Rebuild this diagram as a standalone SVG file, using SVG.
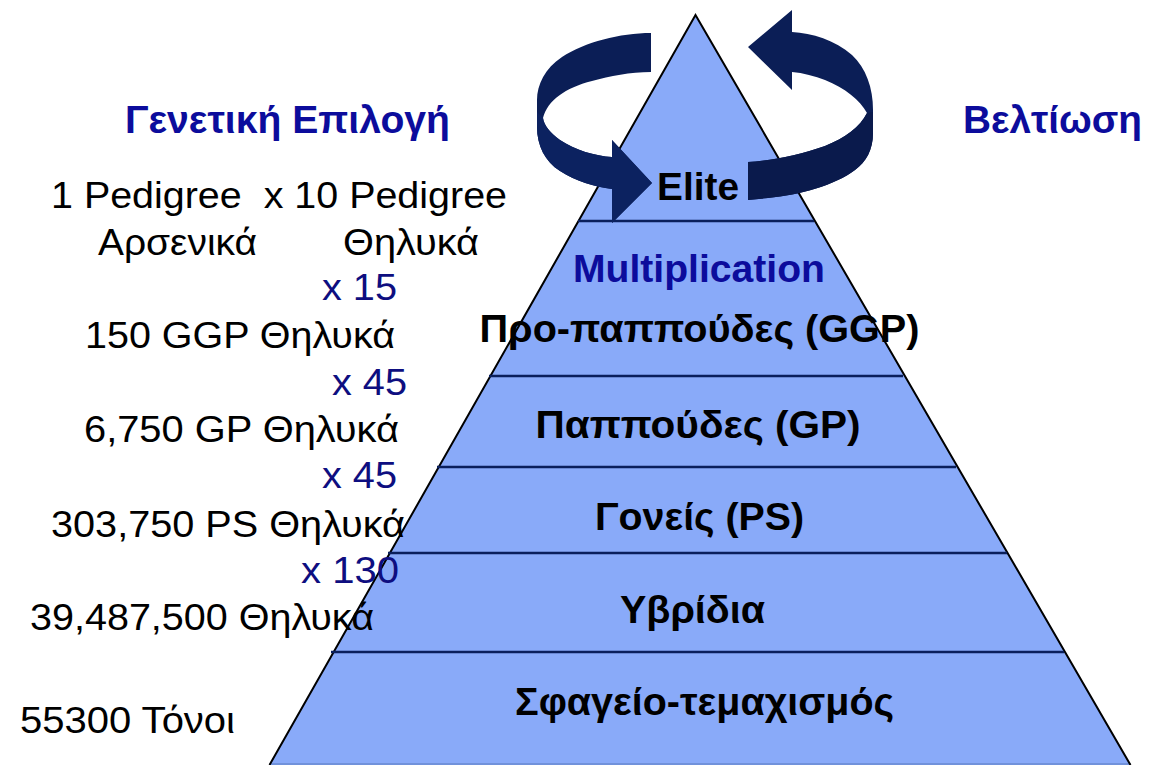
<svg xmlns="http://www.w3.org/2000/svg" width="1154" height="765" viewBox="0 0 1154 765">
  <style>
    .lbl { font-family: "Liberation Sans", Arial, sans-serif; font-size: 36px; fill: #000; }
    .mul { font-family: "Liberation Sans", Arial, sans-serif; font-size: 36px; fill: #0e0e80; }
    .head { font-family: "Liberation Sans", Arial, sans-serif; font-size: 38px; font-weight: bold; fill: #0c0c9c; }
    .tier { font-family: "Liberation Sans", Arial, sans-serif; font-size: 38px; font-weight: bold; fill: #000; text-anchor: middle; }
    .divider { stroke: #0a1f5c; stroke-width: 2.5; fill: none; }
    .band-back { fill: #0b1e56; }
    .band-front { fill: #0c2260; }
  </style>

  <rect width="1154" height="765" fill="#ffffff"/>

  <!-- Pyramid body -->
  <g id="pyramid">
    <polygon points="695.5,15 1130.5,765 269.5,765" fill="#89aaf9"/>
    <line x1="269.5" y1="764" x2="1130.5" y2="764" stroke="#6a8ad0" stroke-width="1.5"/>
    <polyline points="269.5,765 695.5,15 1130.5,765" fill="none" stroke="#000" stroke-width="2"/>
  </g>

  <!-- Tier dividers -->
  <g id="dividers">
    <line class="divider" x1="578" y1="221" x2="814" y2="221"/>
    <line class="divider" x1="489" y1="376" x2="903" y2="376"/>
    <line class="divider" x1="437" y1="467" x2="956" y2="467"/>
    <line class="divider" x1="388" y1="553" x2="1007" y2="553"/>
    <line class="divider" x1="331" y1="652" x2="1064" y2="652"/>
  </g>

  <!-- Circular improvement arrows round the apex -->
  <g id="cycle-left">
    <path class="band-back" d="M651,33 C620,33 585,42 562,57 C545,68 537,85 537,100 L537,127 C537,145 545,162 560,171 C575,181 595,187 612,189 L612,223 L652,183 L612,140 L612,157 C595,156 575,150 560,140 C550,133 544,125 543,118 C548,100 565,88 592,81 C610,76 630,72 651,72 Z"/>
    <path class="band-front" d="M537,112 L537,127 C537,145 545,162 560,171 C575,181 595,187 612,189 L612,223 L652,183 L612,140 L612,157 C595,156 575,150 560,140 C550,133 544,125 543,118 Z"/>
  </g>
  <g id="cycle-right">
    <path class="band-back" d="M748,47 L792,10 L792,32 C812,33 835,40 852,55 C866,68 873,88 873,110 L873,133 C873,150 866,162 855,170 C835,185 800,195 768,198 L748,200 L748,162 C770,161 800,155 825,146 C845,138 860,127 867,113 C860,100 845,88 825,80 C815,76 803,73 792,72 L792,90 Z"/>
    <path fill="#0a1a4c" d="M873,112 L873,133 C873,150 866,162 855,170 C835,185 800,195 768,198 L748,200 L748,162 C770,161 800,155 825,146 C845,138 860,127 867,113 Z"/>
  </g>

  <!-- Headings -->
  <g id="headings">
    <text class="head" x="125" y="133" textLength="325" lengthAdjust="spacingAndGlyphs">Γενετική Επιλογή</text>
    <text class="head" x="963" y="133" textLength="179" lengthAdjust="spacingAndGlyphs">Βελτίωση</text>
  </g>

  <!-- Tier labels -->
  <g id="tier-labels">
    <text class="tier" x="698" y="200" textLength="82" lengthAdjust="spacingAndGlyphs">Elite</text>
    <text class="tier" x="699" y="282" textLength="252" lengthAdjust="spacingAndGlyphs" style="fill:#0c0c9c">Multiplication</text>
    <text class="tier" x="699.5" y="342" textLength="440" lengthAdjust="spacingAndGlyphs">Προ-παππούδες (GGP)</text>
    <text class="tier" x="698" y="438" textLength="325" lengthAdjust="spacingAndGlyphs">Παππούδες (GP)</text>
    <text class="tier" x="699.5" y="530" textLength="209" lengthAdjust="spacingAndGlyphs">Γονείς (PS)</text>
    <text class="tier" x="692.5" y="623" textLength="145" lengthAdjust="spacingAndGlyphs">Υβρίδια</text>
    <text class="tier" x="704.5" y="715" textLength="379" lengthAdjust="spacingAndGlyphs">Σφαγείο-τεμαχισμός</text>
  </g>

  <!-- Breeding counts per generation -->
  <g id="counts">
    <text class="lbl" x="51" y="208" textLength="456" lengthAdjust="spacingAndGlyphs" xml:space="preserve">1 Pedigree  x 10 Pedigree</text>
    <text class="lbl" x="98" y="255" textLength="159" lengthAdjust="spacingAndGlyphs">Αρσενικά</text>
    <text class="lbl" x="343" y="255" textLength="136" lengthAdjust="spacingAndGlyphs">Θηλυκά</text>
    <text class="mul" x="322" y="300" textLength="75" lengthAdjust="spacingAndGlyphs">x 15</text>
    <text class="lbl" x="85" y="348" textLength="310" lengthAdjust="spacingAndGlyphs">150 GGP Θηλυκά</text>
    <text class="mul" x="332" y="395" textLength="75" lengthAdjust="spacingAndGlyphs">x 45</text>
    <text class="lbl" x="84" y="442" textLength="315" lengthAdjust="spacingAndGlyphs">6,750 GP Θηλυκά</text>
    <text class="mul" x="322" y="488" textLength="75" lengthAdjust="spacingAndGlyphs">x 45</text>
    <text class="lbl" x="51" y="537" textLength="354" lengthAdjust="spacingAndGlyphs">303,750 PS Θηλυκά</text>
    <text class="mul" x="301" y="583" textLength="98" lengthAdjust="spacingAndGlyphs">x 130</text>
    <text class="lbl" x="30" y="630" textLength="344" lengthAdjust="spacingAndGlyphs">39,487,500 Θηλυκά</text>
    <text class="lbl" x="20" y="733" textLength="215" lengthAdjust="spacingAndGlyphs">55300 Τόνοι</text>
  </g>
</svg>
